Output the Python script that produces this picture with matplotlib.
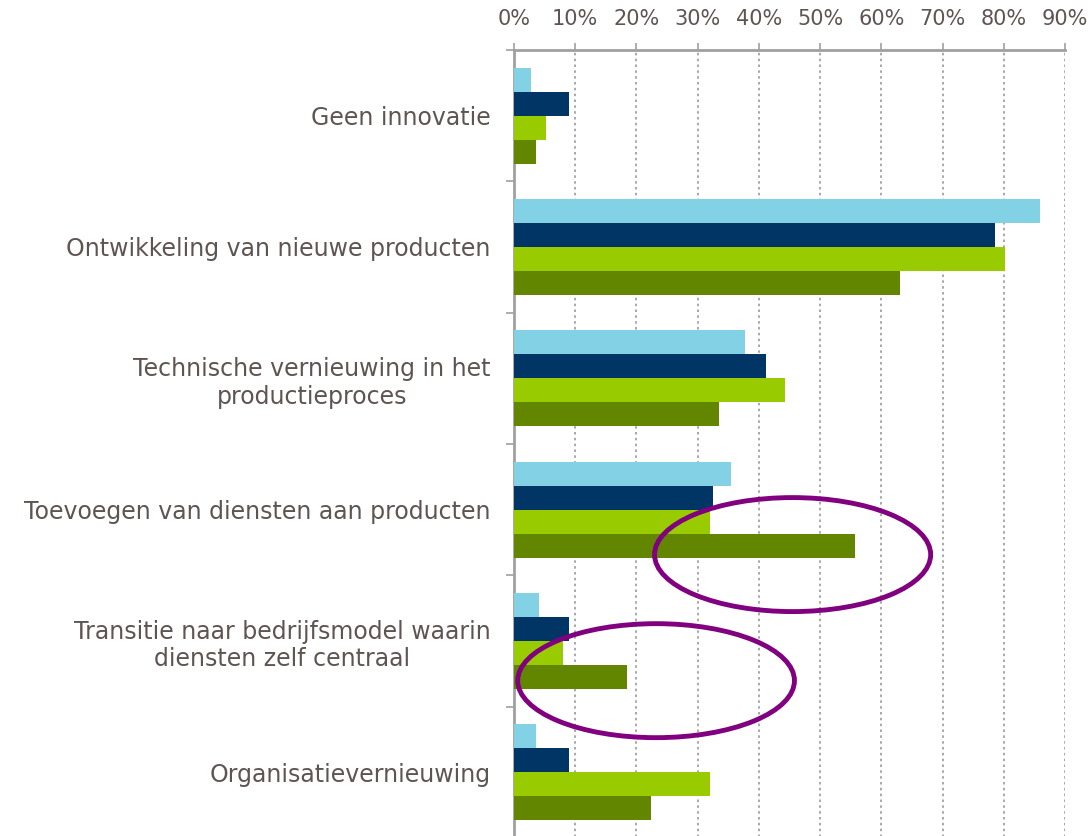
import matplotlib
matplotlib.use('Agg')
import numpy as np
import matplotlib.pyplot as plt
from matplotlib.patches import Ellipse
from matplotlib.ticker import PercentFormatter, MultipleLocator

# categories, top to bottom
categories = [
    'Geen innovatie',
    'Ontwikkeling van nieuwe producten',
    'Technische vernieuwing in het\nproductieproces',
    'Toevoegen van diensten aan producten',
    'Transitie naar bedrijfsmodel waarin\ndiensten zelf centraal',
    'Organisatievernieuwing',
]

# four series (percent), same order as categories
light_blue = [2.7, 85.9, 37.7, 35.5, 4.0, 3.6]
dark_blue = [8.9, 78.5, 41.2, 32.5, 8.9, 8.9]
lime = [5.3, 80.2, 44.3, 32.0, 8.0, 32.0]
olive = [3.6, 63.1, 33.4, 55.7, 18.5, 22.4]

series = [light_blue, dark_blue, lime, olive]
colors = ['#83D1E4', '#003565', '#99CC00', '#638600']

text_color = '#5E5553'
axis_color = '#A0A0A0'

fig = plt.figure(figsize=(10.9, 8.36), dpi=100)
ax = fig.add_axes([0.4716, -0.0024, 0.5055, 0.9426])

n = len(categories)
y = np.arange(n)
bar_h = 0.183
for i, (vals, col) in enumerate(zip(series, colors)):
    ax.barh(y + (i - 1.5) * bar_h, vals, height=bar_h, color=col, zorder=3)

ax.set_xlim(0, 90)
ax.set_ylim(n - 0.5, -0.5)

ax.xaxis.tick_top()
ax.xaxis.set_major_locator(MultipleLocator(10))
ax.xaxis.set_major_formatter(PercentFormatter(decimals=0))
ax.tick_params(axis='x', which='major', direction='out', length=5, width=1.2,
               color=axis_color, labelcolor=text_color, labelsize=15, pad=10)

ax.set_yticks(y)
ax.set_yticklabels(categories)
ax.set_yticks(np.arange(n + 1) - 0.5, minor=True)
ax.tick_params(axis='y', which='major', length=0, labelcolor=text_color,
               labelsize=17, pad=17)
ax.tick_params(axis='y', which='minor', direction='out', length=6, width=1.2, color=axis_color)
for lab in ax.get_yticklabels():
    lab.set_multialignment('center')

ax.grid(axis='x', linestyle=(0, (1.5, 2)), color='#9A9A9A', linewidth=1.2, zorder=0)

for side in ['right', 'bottom']:
    ax.spines[side].set_visible(False)
ax.spines['top'].set_color(axis_color)
ax.spines['left'].set_color(axis_color)
ax.spines['top'].set_linewidth(2)
ax.spines['left'].set_linewidth(2)

# highlight circles
ax.add_patch(Ellipse((45.5, 3.342), 45.1, 0.868, fill=False, edgecolor='#800080',
                     linewidth=3.5, zorder=5, clip_on=False))
ax.add_patch(Ellipse((23.2, 4.302), 45.2, 0.868, fill=False, edgecolor='#800080',
                     linewidth=3.5, zorder=5, clip_on=False))

fig.savefig('out.png', dpi=100)
